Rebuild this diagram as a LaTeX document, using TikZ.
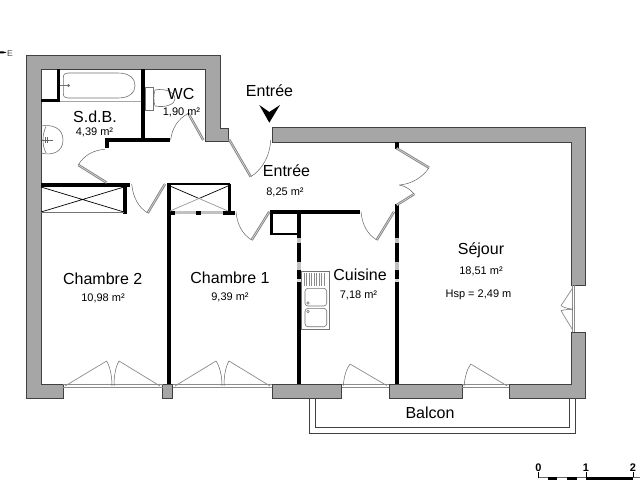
\documentclass[tikz,border=0pt]{standalone}
\usepackage{fontspec}
\setmainfont{Liberation Sans}
\definecolor{wallgray}{HTML}{A6A6A6}
\definecolor{leaf}{HTML}{8C8C8C}
\tikzset{
  wall/.style={fill=wallgray,draw=black!75,line width=0.8pt},
  blackwall/.style={line width=4pt,black},
  thinwall/.style={line width=3.3pt,black},
  grayband/.style={line width=4pt,wallgray!70},
  doorleaf/.style={draw=leaf,line width=1.1pt,double=white,double distance=0.3pt},
  swing/.style={draw=black!60,line width=0.5pt},
  sash/.style={draw=leaf,line width=0.7pt},
  fixture/.style={draw=black!55,line width=0.6pt},
  rail/.style={draw=black!75,line width=0.9pt},
  big/.style={font=\fontsize{16}{16}\selectfont,inner sep=0pt},
  small/.style={font=\fontsize{11}{11}\selectfont,inner sep=0pt},
  scaletext/.style={font=\fontsize{11}{11}\bfseries\selectfont,inner sep=0pt}
}
\begin{document}
\begin{tikzpicture}[x=1pt,y=-1pt]
\useasboundingbox (0,0) rectangle (640,480);
\fill[white] (0,0) rectangle (640,480);
% balcony
\draw[rail] (309.5,398) -- (309.5,433) -- (575.5,433) -- (575.5,398);
\draw[rail] (315,398) -- (315,427) -- (569.5,427) -- (569.5,398);
% masonry
\draw[wall] (26.7,55) -- (220,55) -- (220,128) -- (228,128) -- (228,141.5) -- (205,141.5) -- (205,69.3) -- (41,69.3) -- (41,384) -- (63.3,384) -- (63.3,398) -- (26.7,398) -- cycle;
\draw[wall] (272.3,127.5) -- (585.3,127.5) -- (585.3,285) -- (571,285) -- (571,142.3) -- (272.3,142.3) -- cycle;
\draw[wall] (162.7,384) rectangle (172.7,398);
\draw[wall] (272.3,384) rectangle (341.7,398.5);
\draw[wall] (389,384) rectangle (462,398.5);
\draw[wall] (509.3,384) -- (571,384) -- (571,332) -- (585.3,332) -- (585.3,398.5) -- (509.3,398.5) -- cycle;
% black partitions
\draw[blackwall] (143,69.3) -- (143,140);
\draw[blackwall] (105,140) -- (170,140);
\draw[line width=4pt] (106.5,138) -- (106.5,148);
\draw[thinwall] (58.5,69.3) -- (58.5,101.5);
\draw[line width=3.5pt] (41,100.5) -- (60,100.5);
\draw[blackwall] (41,185) -- (130,185);
\draw[thinwall] (125,185) -- (125,214);
\draw[blackwall] (168.5,183) -- (168.5,384);
\draw[line width=2.5pt] (169,184) -- (230,184);
\draw[thinwall] (229.5,184) -- (229.5,212);
\draw[line width=3pt,wallgray!70] (170,212.5) -- (235,212.5);
\draw[line width=4pt] (167,212.5) -- (175,212.5);
\draw[line width=4pt] (196,212.5) -- (201,212.5);
\draw[line width=4pt] (223,212.5) -- (235,212.5);
\draw[blackwall] (270,212) -- (360,212);
\draw[thinwall] (271.5,212) -- (271.5,235);
\draw[line width=2.5pt] (270,234) -- (299,234);
\draw[blackwall] (298.5,212) -- (298.5,384);
\draw[blackwall] (397,142) -- (397,149);
\draw[blackwall] (397,204) -- (397,384);
\foreach \bx in {298.5,397}{
  \draw[grayband] (\bx,238) -- (\bx,243);
  \draw[grayband] (\bx,262) -- (\bx,270);
  \draw[line width=4pt,black!15] (\bx,279) -- (\bx,282);
}
% closets
\draw[black,line width=0.7pt] (41,187) -- (124,212) (41,212) -- (124,187);
\draw[fixture] (41,212) -- (124,212);
\draw[black,line width=0.7pt] (170,186) -- (199,198.5) -- (228,186);
\draw[draw=black!40,line width=0.7pt] (170,211) -- (199,198.5) -- (228,211);
% bath
\draw[fixture] (63.3,78) .. controls (63.3,74) and (65,73) .. (68,73) -- (118,73) .. controls (130,73) and (135,79) .. (135,85.5) .. controls (135,92) and (130,98) .. (118,98) -- (68,98) .. controls (65,98) and (63.3,97) .. (63.3,93) -- cycle;
\draw[fixture] (60,85.5) -- (68,85.5);
\fill[black!55] (68.5,85.5) circle (1.7);
\draw[fixture,draw=black!35] (60,101.5) -- (141,101.5);
% basin
\draw[fixture] (41,126) .. controls (52,124) and (63,128) .. (63,140) .. controls (63,152) and (52,156) .. (41,153);
\draw[fixture] (46,126.5) .. controls (42,135) and (42,145) .. (46,153);
\draw[black!60,line width=1pt] (42,140) -- (53,140) (45,137) -- (45,143) (47,137) -- (47,143);
% WC
\draw[fixture] (145,87.7) rectangle (153.7,110.7);
\draw[fixture] (155,90) .. controls (165,88) and (175,92) .. (175,99) .. controls (175,104) and (166,108) .. (155,106);
\draw[fixture] (155,90) .. controls (153.5,95) and (153.5,101) .. (155,106);
% sink
\draw[fixture] (301.7,271.7) rectangle (329,329);
\foreach \tx in {304,306.5,...,326}{\draw[draw=black!45,line width=0.4pt] (\tx,273) -- (\tx,286);}
\draw[fixture,rounded corners=3pt] (305,288.3) rectangle (326.7,306);
\draw[fixture,rounded corners=3pt] (305,308.3) rectangle (326.7,326.7);
\draw[fixture] (308,303) circle (1.3) (308,311.5) circle (1.3);
% interior doors
\draw[doorleaf] (188.3,113.3) -- (203.3,140);
\draw[swing] (170.7,140) .. controls (172,128) and (178,119) .. (188.3,113.3);
\draw[doorleaf] (106.7,182.7) -- (78.3,165);
\draw[swing] (78.3,165) .. controls (84,155) and (94,150) .. (105,149.3);
\draw[doorleaf] (165,184) -- (147.7,213);
\draw[swing] (131.7,184) .. controls (133,197) and (138,207) .. (147.7,213);
\draw[doorleaf] (269.3,211.7) -- (251.7,240);
\draw[swing] (236,211.7) .. controls (237,224) and (242,234) .. (251.7,240);
\draw[doorleaf] (394,211.7) -- (376.7,240);
\draw[swing] (361,211.7) .. controls (362,224) and (367,234) .. (376.7,240);
\draw[doorleaf] (229,139.3) -- (250.7,176.7);
\draw[swing] (250.7,176.7) .. controls (262,170) and (270,156) .. (270.7,140);
\draw[doorleaf] (396.7,148.3) -- (429,167.7);
\draw[swing] (429,167.7) .. controls (423,177) and (412,184) .. (399.3,185);
\draw[doorleaf] (396.7,205) -- (414.3,194);
\draw[swing] (414.3,194) .. controls (410,189) and (405,186) .. (399.3,185);
% french windows
\foreach \xa/\xb in {63.3/162.7,172.7/272.3,341.7/389,462/509.3}{
  \draw[sash] (\xa,384.8) -- (\xb,384.8) (\xa,387) -- (\xb,387);
}
\draw[sash] (572.5,285) -- (572.5,332) (574.5,285) -- (574.5,332);
\draw[sash] (65,386) -- (106.7,361);
\draw[swing] (106.7,361) .. controls (110,367) and (112,376) .. (112,386);
\draw[sash] (160,386) -- (119,361);
\draw[swing] (119,361) .. controls (115.5,367) and (114,376) .. (114,386);
\draw[sash] (175,386) -- (216,361);
\draw[swing] (216,361) .. controls (220,367) and (222,376) .. (222,386);
\draw[sash] (270,386) -- (229,361);
\draw[swing] (229,361) .. controls (225.5,367) and (224,376) .. (224,386);
\draw[sash] (386.7,385.5) -- (350,364);
\draw[swing] (350,364) .. controls (346,369) and (344,377) .. (343.3,385.5);
\draw[sash] (507.3,386) -- (470.7,364);
\draw[swing] (470.7,364) .. controls (467,369) and (465,377) .. (464,386);
\draw[sash] (572.7,288) -- (561,305.7);
\draw[swing] (561,305.7) .. controls (565,308) and (569,309) .. (572.7,309);
\draw[sash] (572.7,330) -- (561,310.7);
\draw[swing] (561,310.7) .. controls (565,309.5) and (569,309.5) .. (572.7,309.5);
% entrance arrow
\fill[black] (259.3,105) -- (269.3,112) -- (280,105) -- (269.3,122.7) -- cycle;
% labels
\node[big] (lentree) at (269.5,91) {Entrée};
\node[big] (lentr) at (286.5,171) {Entrée};
\node[small] (aentr) at (285,192.5) {8,25 m²};
\node[big] (lsdb) at (95,117) {S.d.B.};
\node[small] (asdb) at (94.5,132) {4,39 m²};
\node[big] (lwc) at (181,94) {WC};
\node[small] (awc) at (181.5,112) {1,90 m²};
\node[big] (lch2) at (102.7,279) {Chambre 2};
\node[small] (ach2) at (103,298) {10,98 m²};
\node[big] (lch1) at (230,278) {Chambre 1};
\node[small] (ach1) at (230,297) {9,39 m²};
\node[big] (lcui) at (360,275) {Cuisine};
\node[small] (acui) at (358.5,295) {7,18 m²};
\node[big] (lsej) at (481,250) {Séjour};
\node[small] (asej) at (481,271) {18,51 m²};
\node[small] (hsp) at (478.5,295) {Hsp = 2,49 m};
\node[big] (lbal) at (430,413) {Balcon};
% compass
\fill[black] (0,51.3) -- (3,51.3) -- (6.5,52.5) -- (3,53.4) -- (0,53.4) -- cycle;
\node[font=\fontsize{8.5}{8.5}\selectfont,inner sep=0pt,text=black!70] (east) at (10,54) {E};
% scale bar
\draw[black,line width=0.7pt] (538.5,478) -- (538.5,472) (586,478) -- (586,472) (633,478) -- (633,472);
\draw[black!60,line width=0.6pt] (538.5,477) -- (640,477);
\draw[black,line width=2.5pt] (547.7,478.5) -- (557.3,478.5) (566.7,478.5) -- (576.7,478.5) (586,478.5) -- (633,478.5);
\node[scaletext] (s0) at (538.5,468) {0};
\node[scaletext] (s1) at (586,468) {1};
\node[scaletext] (s2) at (633,468) {2};
\end{tikzpicture}
\end{document}
